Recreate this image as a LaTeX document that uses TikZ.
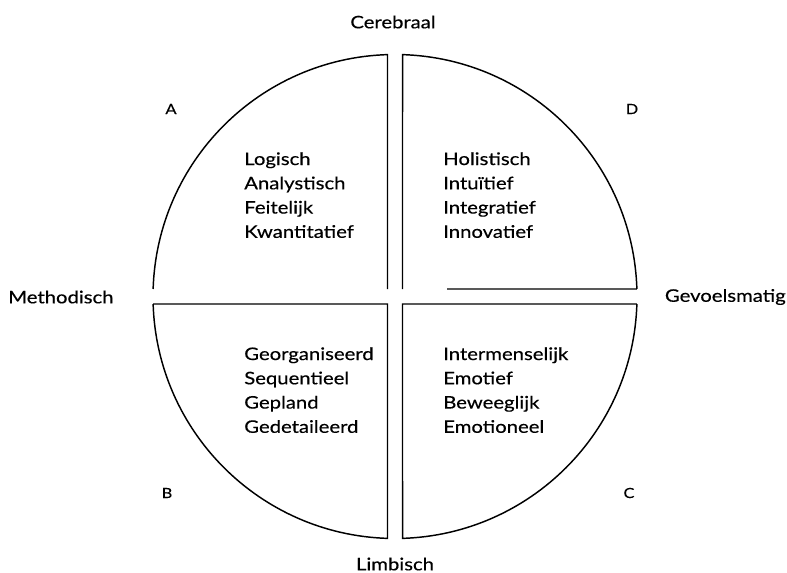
\documentclass[tikz,border=0pt]{standalone}
\usepackage{fontspec}
\setmainfont{Lato}[FakeStretch=1.17, FakeBold=0.4]
\usetikzlibrary{calc}

\begin{document}
\begin{tikzpicture}[
    x=0.75pt, y=0.75pt,
    rim/.style={draw, line width=1.1pt},
    list/.style={anchor=north west, inner sep=0pt, align=left, font=\fontsize{13}{18.2}\selectfont},
    axis/.style={font=\fontsize{13}{15}\selectfont, inner sep=0pt},
    corner/.style={font=\fontsize{10.5}{12}\selectfont, inner sep=0pt},
]
    \useasboundingbox (0,0) rectangle (787,-573);
    \def\r{242}
    \coordinate (C) at (395,-296.5);

    % Quadrant A (top left), open at the bottom
    \draw [rim] ($(C)+(-7.5,7.5)$) -- ($(C)+(91.78:\r)$) arc[start angle=91.78, end angle=178.22, radius=\r];
    % Quadrant D (top right)
    \draw [rim] ($(C)+(7.5,7.5)$) -- ($(C)+(88.22:\r)$) arc[start angle=88.22, end angle=1.78, radius=\r];
    \draw [rim] ($(C)+(1.78:\r)$) -- ($(C)+(52,7.5)$);
    % Quadrant B (bottom left)
    \draw [rim] ($(C)+(181.78:\r)$) -- ($(C)+(-7.5,-7.5)$) -- ($(C)+(268.22:\r)$) arc[start angle=268.22, end angle=181.78, radius=\r];
    % Quadrant C (bottom right)
    \draw [rim] ($(C)+(358.22:\r)$) -- ($(C)+(7.5,-7.5)$) -- ($(C)+(271.78:\r)$) arc[start angle=271.78, end angle=358.22, radius=\r];

    % Lists
    \node [list] (lA) at (244,-152) {Logisch\\Analystisch\\Feitelijk\\Kwantitatief};
    \node [list] (lD) at (443,-152) {Holistisch\\Intuïtief\\Integratief\\Innovatief};
    \node [list] (lB) at (244,-347) {Georganiseerd\\Sequentieel\\Gepland\\Gedetaileerd};
    \node [list] (lC) at (443,-347) {Intermenselijk\\Emotief\\Beweeglijk\\Emotioneel};

    % Axis labels
    \node [axis] (top) at (393,-22) {Cerebraal};
    \node [axis] (bottom) at (395,-564) {Limbisch};
    \node [axis, anchor=west] (left) at (8,-297) {Methodisch};
    \node [axis, anchor=east] (right) at (786,-297) {Gevoelsmatig};

    % Corner letters
    \node [corner] (cA) at (171,-109) {A};
    \node [corner] (cD) at (632,-109) {D};
    \node [corner] (cB) at (167,-493) {B};
    \node [corner] (cC) at (629,-493) {C};
\end{tikzpicture}
\end{document}
